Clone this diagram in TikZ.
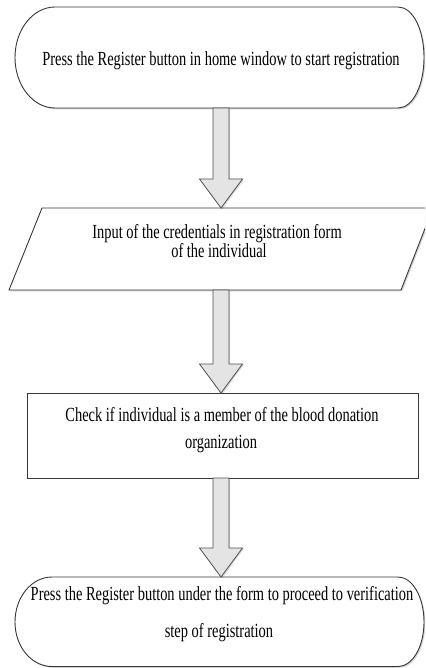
\documentclass[tikz,border=0pt]{standalone}
\usepackage{fontspec}
\setmainfont{Liberation Serif}
\usetikzlibrary{calc,shadows}

\definecolor{outline}{HTML}{383838}
\definecolor{arrowfill}{HTML}{E4E4E4}
\definecolor{arrowline}{HTML}{505050}

\tikzset{
  shapeline/.style={draw=outline, line width=0.9pt, fill=white, line join=miter,
    drop shadow={shadow xshift=1.3pt, shadow yshift=-1.3pt, opacity=0.18, fill=black}},
  holder/.style={inner sep=0pt, outer sep=0pt, draw=none},
  steptext/.style={font=\fontsize{20}{24}\selectfont, inner sep=0pt, anchor=base,
    text height=13pt, text depth=3pt},
  blockarrow/.style={fill=arrowfill, draw=arrowline, line width=0.8pt, line join=miter,
    drop shadow={shadow xshift=1.2pt, shadow yshift=-1.2pt, opacity=0.15, fill=black}}
}

% narrow-set line of text
\newcommand\narrow[1]{\scalebox{0.722}[1]{#1}}

% hollow block arrow from the bottom of one step to the top of the next
\newcommand\flowarrow[2]{%
  \draw[blockarrow] let \p1=(#1.south), \p2=(#2.north) in
    (\x1-8pt,\y1) -- (\x1-8pt,\y2+29pt) -- (\x1-21.5pt,\y2+29pt) -- (\x1,\y2)
    -- (\x1+21.5pt,\y2+29pt) -- (\x1+8pt,\y2+29pt) -- (\x1+8pt,\y1) -- cycle;}

\begin{document}
\begin{tikzpicture}[x=1pt,y=-1pt]
\useasboundingbox (0,0) rectangle (425,668);
\clip (0,0) rectangle (425,668);

% step areas
\node[holder, minimum width=410pt, minimum height=101pt] (start) at (221,57.5) {};
\node[holder, minimum width=424pt, minimum height=82pt] (input) at (221,249) {};
\node[holder, minimum width=391pt, minimum height=85pt] (check) at (221,435.5) {};
\node[holder, minimum width=410pt, minimum height=90pt] (finish) at (221,622) {};

% start terminal
\draw[shapeline] (55,7) -- (398,7)
  .. controls (412.9,7) and (424,29.6) .. (424,57.5)
  .. controls (424,85.4) and (412.9,108) .. (398,108)
  -- (55,108)
  .. controls (32.9,108) and (15,85.4) .. (15,57.5)
  .. controls (15,29.6) and (32.9,7) .. (55,7) -- cycle;

% input parallelogram
\draw[shapeline] (42,208) -- (433,208) -- (401,290) -- (9,290) -- cycle;

% check process box
\draw[shapeline] (27,393) rectangle (418,478);

% finish terminal
\draw[shapeline] (52,577) -- (398,577)
  .. controls (412.4,577) and (424,597.1) .. (424,622)
  .. controls (424,646.9) and (412.4,666.5) .. (398,666.5)
  -- (52,666.5)
  .. controls (31.6,666.5) and (15,646.9) .. (15,622)
  .. controls (15,597.1) and (31.6,577) .. (52,577) -- cycle;

% connectors
\flowarrow{start}{input}
\flowarrow{input}{check}
\flowarrow{check}{finish}

% texts
\node[steptext] (startA) at (221,65.5) {\narrow{Press the Register button in home window to start registration}};
\node[steptext] (inputA) at (217,238.5) {\narrow{Input of the credentials in registration form}};
\node[steptext] (inputB) at (219,257.5) {\narrow{of the individual}};
\node[steptext] (checkA) at (222,421.5) {\narrow{Check if individual is a member of the blood donation}};
\node[steptext] (checkB) at (221,448.5) {\narrow{organization}};
\node[steptext] (finishA) at (222,600) {\narrow{Press the Register button under the form to proceed to verification}};
\node[steptext] (finishB) at (219,637) {\narrow{step of registration}};
\end{tikzpicture}
\end{document}
